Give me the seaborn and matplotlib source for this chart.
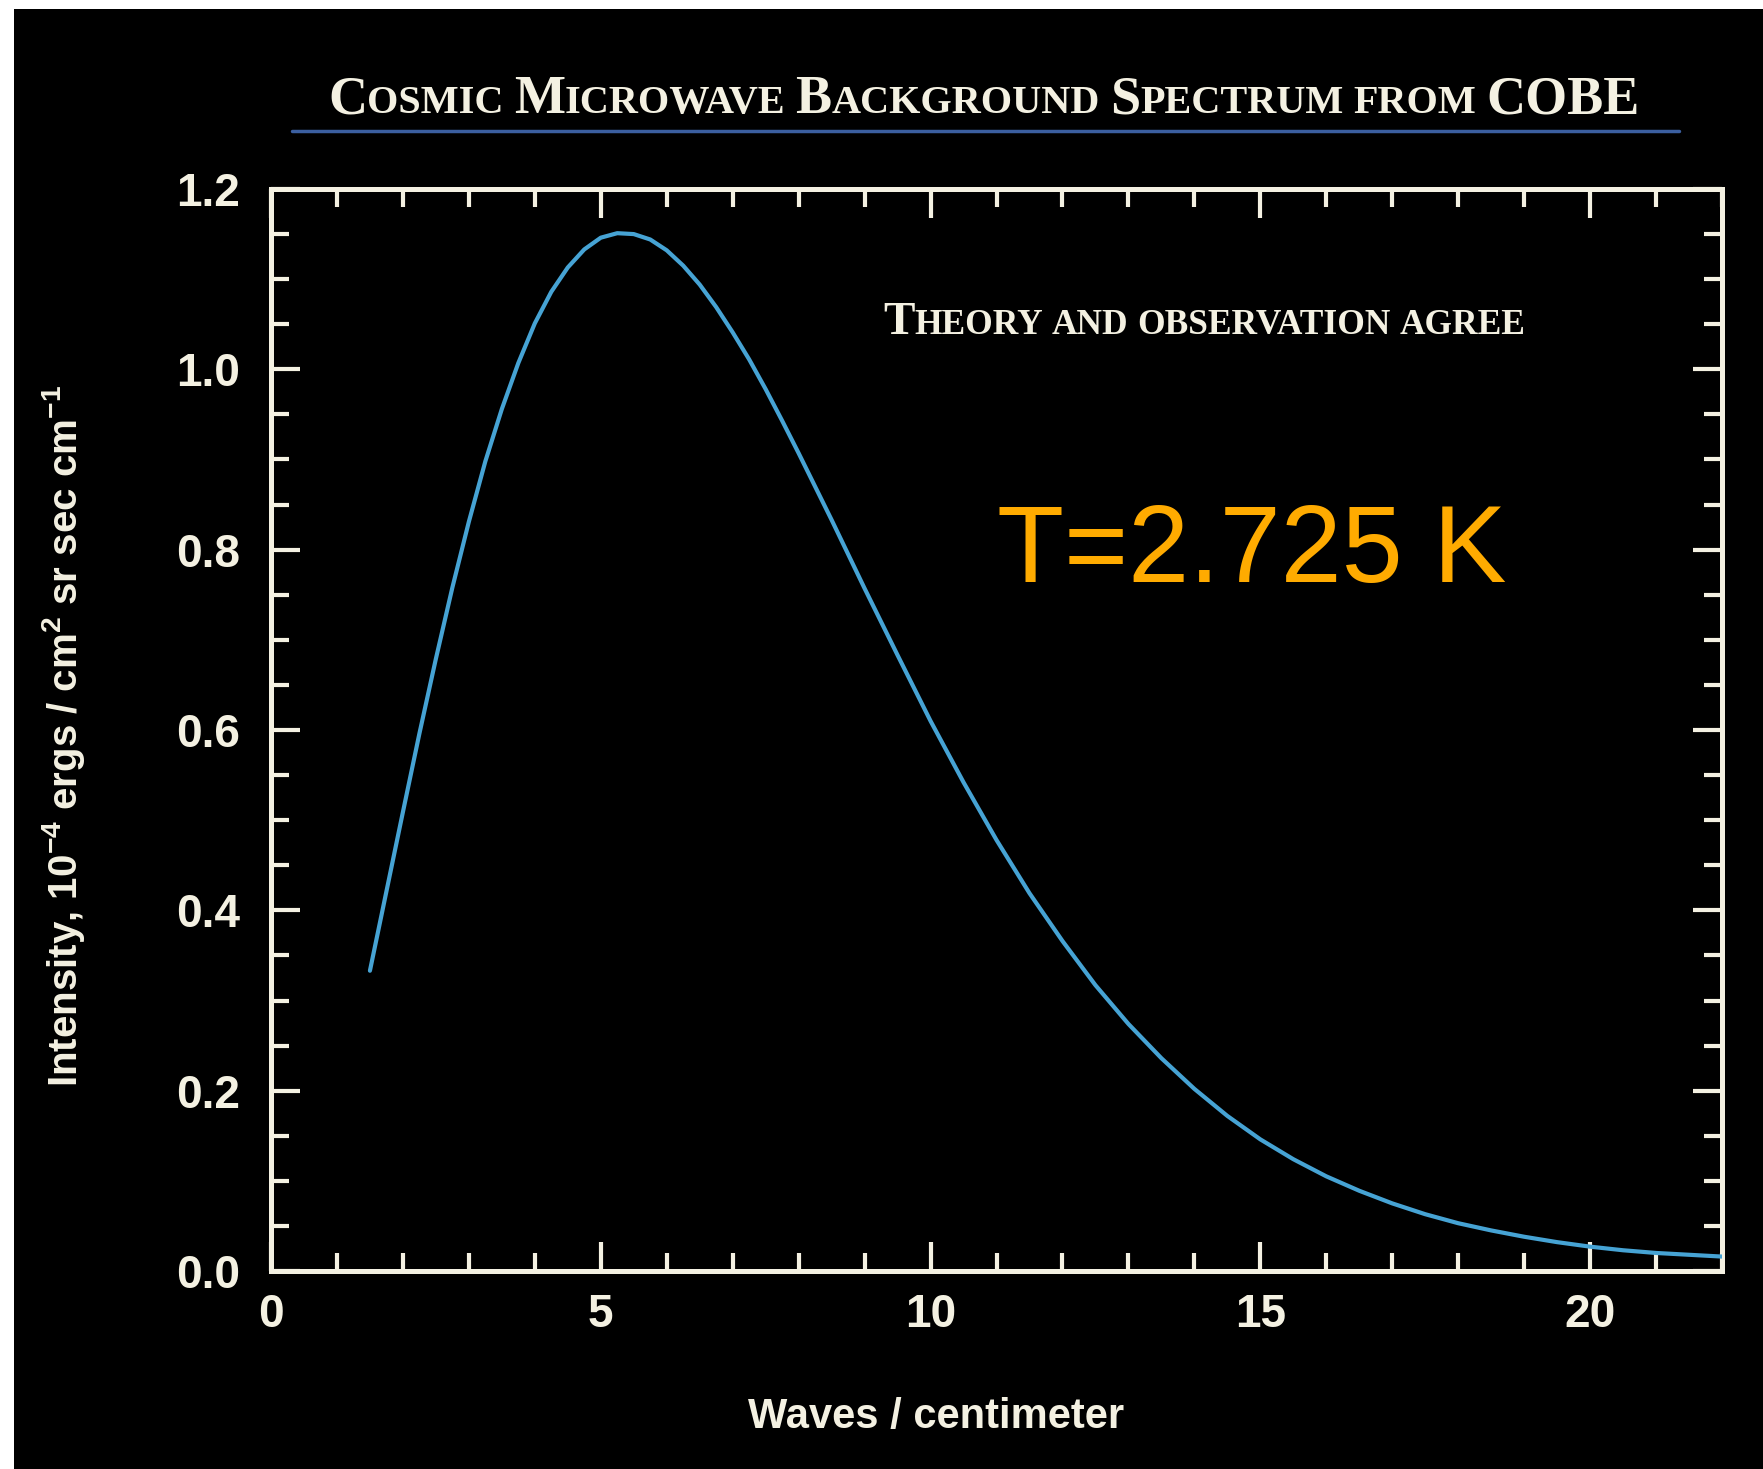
import numpy as np
import pandas as pd
import matplotlib
matplotlib.use("Agg")
import matplotlib.pyplot as plt
import seaborn as sns
from matplotlib.ticker import FixedLocator, MultipleLocator, FixedFormatter
import matplotlib.patches as mpatches
import matplotlib.lines as mlines

# ---------------- data ----------------
wavenumber = [1.5, 1.75, 2.0, 2.25, 2.5, 2.75, 3.0, 3.25, 3.5, 3.75, 4.0, 4.25,
              4.5, 4.75, 5.0, 5.25, 5.5, 5.75, 6.0, 6.25, 6.5, 6.75, 7.0, 7.25,
              7.5, 7.75, 8.0, 8.25, 8.5, 8.75, 9.0, 9.5, 10.0, 10.5, 11.0,
              11.5, 12.0, 12.5, 13.0, 13.5, 14.0, 14.5, 15.0, 15.5, 16.0,
              16.5, 17.0, 17.5, 18.0, 18.5, 19.0, 19.5, 20.0, 20.5, 21.0,
              21.5, 22.0]
intensity = [0.333, 0.421, 0.509, 0.596, 0.679, 0.758, 0.831, 0.898, 0.956,
             1.007, 1.051, 1.086, 1.113, 1.133, 1.146, 1.151, 1.150, 1.144,
             1.132, 1.115, 1.094, 1.069, 1.041, 1.011, 0.978, 0.943, 0.907,
             0.870, 0.833, 0.795, 0.757, 0.683, 0.610, 0.542, 0.478, 0.419,
             0.366, 0.317, 0.274, 0.236, 0.202, 0.172, 0.146, 0.124, 0.105,
             0.089, 0.075, 0.063, 0.053, 0.045, 0.038, 0.032, 0.027, 0.023,
             0.020, 0.018, 0.016]

x_major_ticks = [0, 5, 10, 15, 20]
x_tick_labels = ["0", "5", "10", "15", "20"]
y_major_ticks = [0.0, 0.2, 0.4, 0.6, 0.8, 1.0, 1.2]
y_tick_labels = ["0.0", "0.2", "0.4", "0.6", "0.8", "1.0", "1.2"]

title_text = "Cosmic Microwave Background Spectrum from COBE"
subtitle_text = "Theory and observation agree"
temp_text = "T=2.725 K"
x_label = "Waves / centimeter"
y_label = r"Intensity, 10$^{-4}$ ergs / cm$^{2}$ sr sec cm$^{-1}$"

# ---------------- style ----------------
W, H, DPI = 1763, 1469, 100
CREAM = "#f4f1e2"
CURVE = "#46a3d4"
ORANGE = "#ffab00"

sns.set_theme(style="dark")
plt.rcParams["font.family"] = ["Liberation Sans", "DejaVu Sans"]
plt.rcParams["mathtext.fontset"] = "custom"
plt.rcParams["mathtext.rm"] = "Liberation Sans:bold"
plt.rcParams["mathtext.it"] = "Liberation Sans:bold"
plt.rcParams["mathtext.bf"] = "Liberation Sans:bold"
plt.rcParams["mathtext.default"] = "rm"

fig = plt.figure(figsize=(W / DPI, H / DPI), dpi=DPI, facecolor="black")
# white scan borders (left and top)
fig.patches.append(mpatches.Rectangle((0, 0), 14 / W, 1, transform=fig.transFigure,
                                      facecolor="white", edgecolor="none", zorder=0))
fig.patches.append(mpatches.Rectangle((0, 1 - 9 / H), 1, 9 / H, transform=fig.transFigure,
                                      facecolor="white", edgecolor="none", zorder=0))

ax_l, ax_r, ax_t, ax_b = 271, 1722, 189, 1271
ax = fig.add_axes([ax_l / W, 1 - ax_b / H, (ax_r - ax_l) / W, (ax_b - ax_t) / H])
ax.set_facecolor("black")

df = pd.DataFrame({"wavenumber": wavenumber, "intensity": intensity})
sns.lineplot(data=df, x="wavenumber", y="intensity", ax=ax, color=CURVE,
             linewidth=3.0, zorder=3)

ax.set_xlim(0, 22)
ax.set_ylim(0, 1.2)
ax.grid(False)

for s in ax.spines.values():
    s.set_visible(True)
    s.set_color(CREAM)
    s.set_linewidth(3.6)

ax.xaxis.set_major_locator(FixedLocator(x_major_ticks))
ax.xaxis.set_major_formatter(FixedFormatter(x_tick_labels))
ax.xaxis.set_minor_locator(MultipleLocator(1))
ax.yaxis.set_major_locator(FixedLocator(y_major_ticks))
ax.yaxis.set_major_formatter(FixedFormatter(y_tick_labels))
ax.yaxis.set_minor_locator(MultipleLocator(0.05))

ax.tick_params(which="both", direction="in", top=True, right=True, bottom=True, left=True,
               color=CREAM, width=3.0)
ax.tick_params(which="major", length=21, labelsize=33, labelcolor=CREAM)
ax.tick_params(which="minor", length=13)
ax.tick_params(axis="x", which="major", pad=16)
ax.tick_params(axis="y", which="major", pad=22)
for lab in ax.get_xticklabels() + ax.get_yticklabels():
    lab.set_fontweight("bold")

ax.set_xlabel(x_label, fontsize=30, fontweight="bold", color=CREAM)
ax.xaxis.label.set_verticalalignment("center")
ax.xaxis.set_label_coords((936 - ax_l) / (ax_r - ax_l), (ax_b - 1417) / (ax_b - ax_t))
ax.set_ylabel(y_label, fontsize=29, fontweight="bold", color=CREAM)
ax.yaxis.label.set_verticalalignment("center")
ax.yaxis.set_label_coords((64 - ax_l) / (ax_r - ax_l), (ax_b - 736) / (ax_b - ax_t))

# ---------------- small-caps serif texts ----------------
SERIF = ["Liberation Serif", "DejaVu Serif"]
renderer = fig.canvas.get_renderer()


def small_caps(text, x_px, base_px, big_pt, small_pt, color):
    x = x_px
    runs = []
    for ch in text:
        if ch == " ":
            kind = "space"
        elif ch.isupper():
            kind = "big"
        else:
            kind = "small"
        if runs and runs[-1][0] == kind:
            runs[-1][1] += ch
        else:
            runs.append([kind, ch])
    for kind, chunk in runs:
        if kind == "space":
            x += len(chunk) * small_pt * DPI / 72 * 0.25
            continue
        size = big_pt if kind == "big" else small_pt
        t = fig.text(x / W, 1 - base_px / H, chunk.upper(), family=SERIF,
                     fontsize=size, fontweight="bold", color=color,
                     ha="left", va="baseline")
        bb = t.get_window_extent(renderer=renderer)
        x += bb.width
    return x


small_caps(title_text, 328, 113, 39, 29, CREAM)
fig.lines.append(mlines.Line2D([292 / W, 1679 / W], [1 - 131 / H, 1 - 131 / H],
                               transform=fig.transFigure, color="#3b5fa0", linewidth=2.5))
small_caps(subtitle_text, 883, 334, 34, 25.5, CREAM)

fig.text(997 / W, 1 - 582 / H, temp_text, family=["Liberation Sans", "DejaVu Sans"],
         fontweight="normal", fontsize=79, color=ORANGE, ha="left", va="baseline")

fig.savefig("out.png", dpi=DPI, facecolor=fig.get_facecolor())
